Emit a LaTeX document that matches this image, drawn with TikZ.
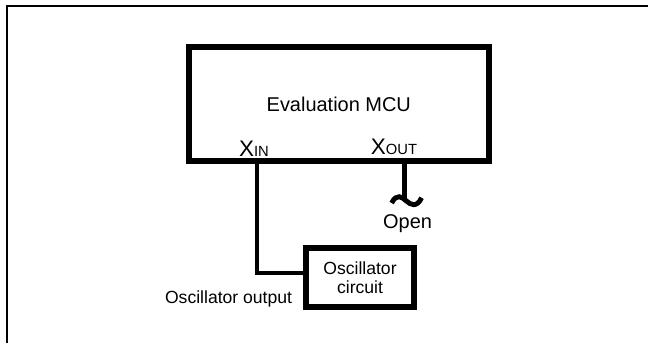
\documentclass[tikz,border=0pt]{standalone}
\usepackage{fontspec}
\setmainfont{Liberation Sans}
\usetikzlibrary{calc}

\newcommand{\xpin}[1]{{\fontsize{16}{18}\selectfont X}{\fontsize{10.5}{12}\selectfont #1}}

\begin{document}
\begin{tikzpicture}[
  box/.style={draw, line width=4.2pt, inner sep=0pt},
  wire/.style={line width=3.5pt},
  big/.style={font=\fontsize{14.2}{16}\selectfont},
  small/.style={font=\fontsize{12.5}{13.2}\selectfont}]
  \useasboundingbox (0,0) rectangle (16.2,8.575);
  % frame
  \draw[line width=1.5pt] (0.18,0) -- (0.18,8.43) -- (16.2,8.43);
  % MCU
  \node[box, big, minimum width=7.5cm, minimum height=2.85cm] (mcu) at (8.47,5.965) {Evaluation MCU};
  \node[anchor=base] (xin) at (6.35,4.66) {\xpin{IN}};
  \node[anchor=base] (xout) at (9.85,4.70) {\xpin{OUT}};
  % oscillator
  \node[box, small, align=center, minimum width=2.7cm, minimum height=1.475cm] (osc) at (9.0,1.6375) {Oscillator\\circuit};
  \node[small, anchor=base east] (oscout) at (7.425,0.99) {Oscillator output};
  \coordinate (bend) at (6.425,1.75);
  \draw[wire] (mcu.south -| bend) -- (bend) -- (bend -| osc.west);
  % open XOUT
  \coordinate (xoutpin) at (10.11,4.54);
  \coordinate (cut) at (10.11,3.6);
  \draw[wire] (xoutpin) -- (cut);
  \draw[wire] (9.79,3.5) .. controls (9.92,3.75) and (10.05,3.65) .. (10.16,3.55) .. controls (10.27,3.45) and (10.42,3.38) .. (10.54,3.63);
  \node[big, anchor=base] (open) at (10.19,2.85) {Open};
\end{tikzpicture}
\end{document}
